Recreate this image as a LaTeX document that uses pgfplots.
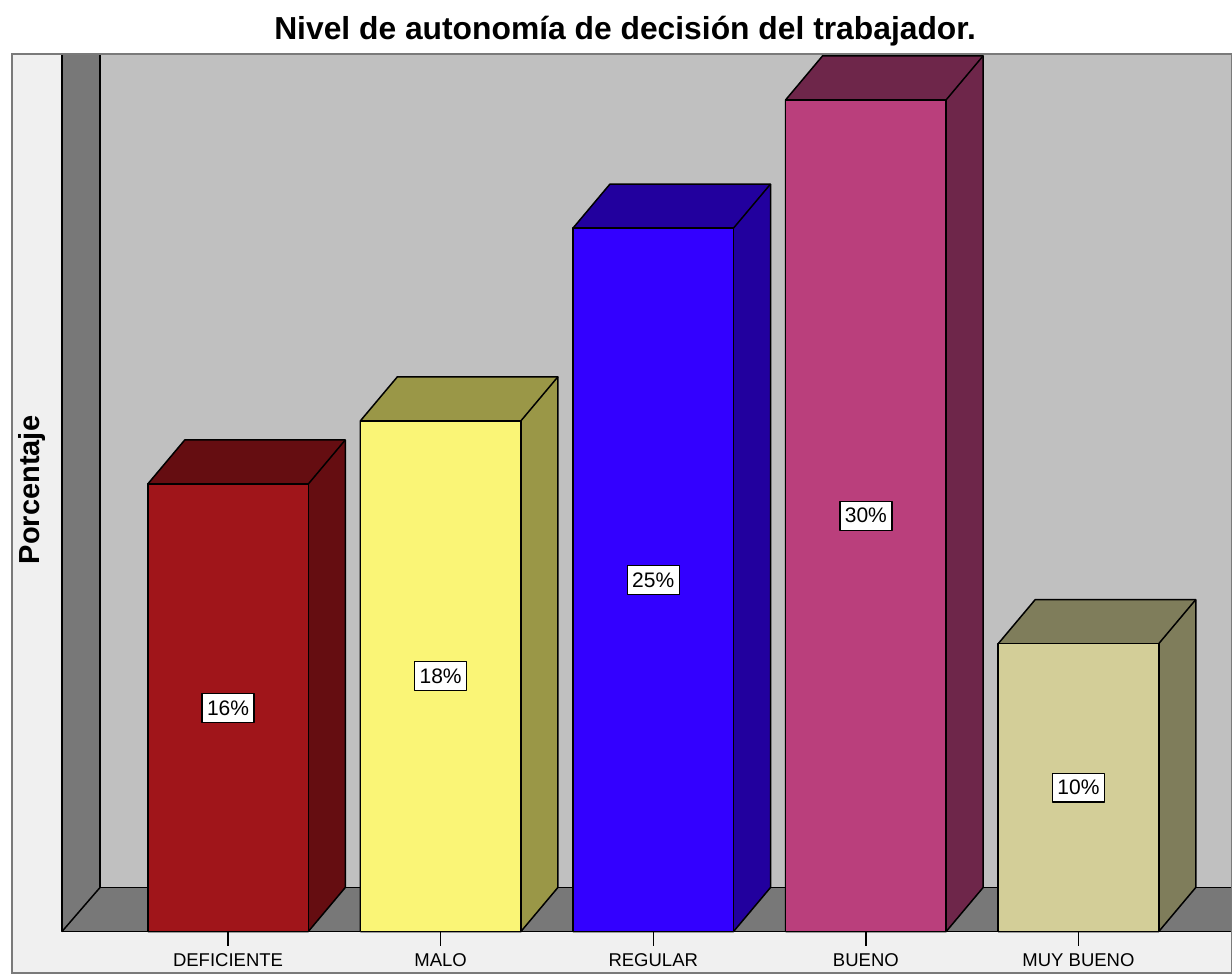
\documentclass[border=0pt]{standalone}
\usepackage{fontspec}
\setmainfont{Liberation Sans}
\usepackage{pgfplots}
\pgfplotsset{compat=1.18}
\definecolor{panel}{HTML}{F0F0F0}
\definecolor{framegray}{HTML}{7A7A7A}
\definecolor{walldark}{HTML}{787878}
\definecolor{wallback}{HTML}{C0C0C0}
\definecolor{redF}{HTML}{A0151A}
\definecolor{redS}{HTML}{650D11}
\definecolor{yelF}{HTML}{FAF576}
\definecolor{yelS}{HTML}{9A9747}
\definecolor{bluF}{HTML}{3300FF}
\definecolor{bluS}{HTML}{22009E}
\definecolor{pinF}{HTML}{BA3F7C}
\definecolor{pinS}{HTML}{6E264A}
\definecolor{begF}{HTML}{D3CE98}
\definecolor{begS}{HTML}{7F7D5B}
\newcommand{\charttitle}{Nivel de autonom\symbol{237}a de decisi\symbol{243}n del trabajador.}
\begin{document}
\begin{tikzpicture}
\fill[white] (0,0) rectangle (1232pt,975pt);
\useasboundingbox (0,0) rectangle (1232pt,975pt);
\begin{axis}[
  at={(12pt,2pt)}, anchor=south west,
  scale only axis, width=1220pt, height=919pt,
  xmin=-1.016, xmax=4.722, ymin=-1.49, ymax=31.55,
  axis background/.style={fill=panel},
  axis line style={draw=framegray, line width=1.5pt},
  axis on top,
  xtick={0,1,2,3,4},
  xticklabels={DEFICIENTE,MALO,REGULAR,BUENO,MUY BUENO},
  xticklabel style={font=\fontsize{18.5}{20}\selectfont, anchor=base, yshift=7pt},
  major tick length=0pt,
  ytick=\empty,
  ylabel={Porcentaje},
  ylabel style={font=\bfseries\fontsize{29}{31}\selectfont, at={(axis description cs:0.0164,0.5256)}, anchor=center},
  title={\charttitle},
  title style={font=\bfseries\fontsize{31.8}{34}\selectfont, at={(axis description cs:0.5025,1)}, anchor=base, yshift=8.5pt},
  clip=true,
  every axis plot/.append style={line width=1.5pt, line join=round},
]
% walls
\fill[walldark] (axis cs:-0.781,35) -- (axis cs:-0.602,35) -- (axis cs:-0.602,1.584) -- (axis cs:-0.781,0) -- cycle;
\fill[wallback] (axis cs:-0.602,35) -- (axis cs:5,35) -- (axis cs:5,1.584) -- (axis cs:-0.602,1.584) -- cycle;
\fill[walldark] (axis cs:-0.781,0) -- (axis cs:-0.602,1.584) -- (axis cs:5,1.584) -- (axis cs:5,0) -- cycle;
\draw[black, line width=1.5pt, line join=round] (axis cs:-0.781,35) -- (axis cs:-0.781,0) -- (axis cs:5,0);
\draw[black, line width=1.5pt, line join=round] (axis cs:-0.602,35) -- (axis cs:-0.602,1.584) -- (axis cs:5,1.584);
\draw[black, line width=1.5pt] (axis cs:-0.781,0) -- (axis cs:-0.602,1.584);
% ticks
\draw[black, line width=1.5pt] (axis cs:0,0) -- (axis cs:0,-0.52);
\draw[black, line width=1.5pt] (axis cs:1,0) -- (axis cs:1,-0.52);
\draw[black, line width=1.5pt] (axis cs:2,0) -- (axis cs:2,-0.52);
\draw[black, line width=1.5pt] (axis cs:3,0) -- (axis cs:3,-0.52);
\draw[black, line width=1.5pt] (axis cs:4,0) -- (axis cs:4,-0.52);

% DEFICIENTE 16%
\addplot[fill=redS, draw=black] coordinates {(-0.3775,0) (-0.3775,16.09) (-0.2035,17.674) (0.5515,17.674) (0.5515,1.584) (0.3775,0) (-0.3775,0)};
\addplot[ybar, bar width=0.755, bar shift=0pt, fill=redF, draw=black] coordinates {(0,16.09)};
\addplot[black] coordinates {(0.3775,16.09) (0.5515,17.674)};
% MALO 18%
\addplot[fill=yelS, draw=black] coordinates {(0.6225,0) (0.6225,18.36) (0.7965,19.944) (1.5515,19.944) (1.5515,1.584) (1.3775,0) (0.6225,0)};
\addplot[ybar, bar width=0.755, bar shift=0pt, fill=yelF, draw=black] coordinates {(1,18.36)};
\addplot[black] coordinates {(1.3775,18.36) (1.5515,19.944)};
% REGULAR 25%
\addplot[fill=bluS, draw=black] coordinates {(1.6225,0) (1.6225,25.29) (1.7965,26.874) (2.5515,26.874) (2.5515,1.584) (2.3775,0) (1.6225,0)};
\addplot[ybar, bar width=0.755, bar shift=0pt, fill=bluF, draw=black] coordinates {(2,25.29)};
\addplot[black] coordinates {(2.3775,25.29) (2.5515,26.874)};
% BUENO 30%
\addplot[fill=pinS, draw=black] coordinates {(2.6225,0) (2.6225,29.90) (2.7965,31.484) (3.5515,31.484) (3.5515,1.584) (3.3775,0) (2.6225,0)};
\addplot[ybar, bar width=0.755, bar shift=0pt, fill=pinF, draw=black] coordinates {(3,29.90)};
\addplot[black] coordinates {(3.3775,29.90) (3.5515,31.484)};
% MUY BUENO 10%
\addplot[fill=begS, draw=black] coordinates {(3.6225,0) (3.6225,10.35) (3.7965,11.934) (4.5515,11.934) (4.5515,1.584) (4.3775,0) (3.6225,0)};
\addplot[ybar, bar width=0.755, bar shift=0pt, fill=begF, draw=black] coordinates {(4,10.35)};
\addplot[black] coordinates {(4.3775,10.35) (4.5515,11.934)};
% value labels
\addplot[draw=none, mark=none, nodes near coords, point meta=explicit symbolic,
  every node near coord/.append style={anchor=center, fill=white, draw=black, line width=1.3pt, text=black, font=\fontsize{21}{23}\selectfont, inner xsep=5pt, inner ysep=7pt}]
  coordinates {(0,8.045) [16\%] (1,9.18) [18\%] (2,12.645) [25\%] (3,14.95) [30\%] (4,5.175) [10\%]};
\end{axis}
\end{tikzpicture}
\end{document}
